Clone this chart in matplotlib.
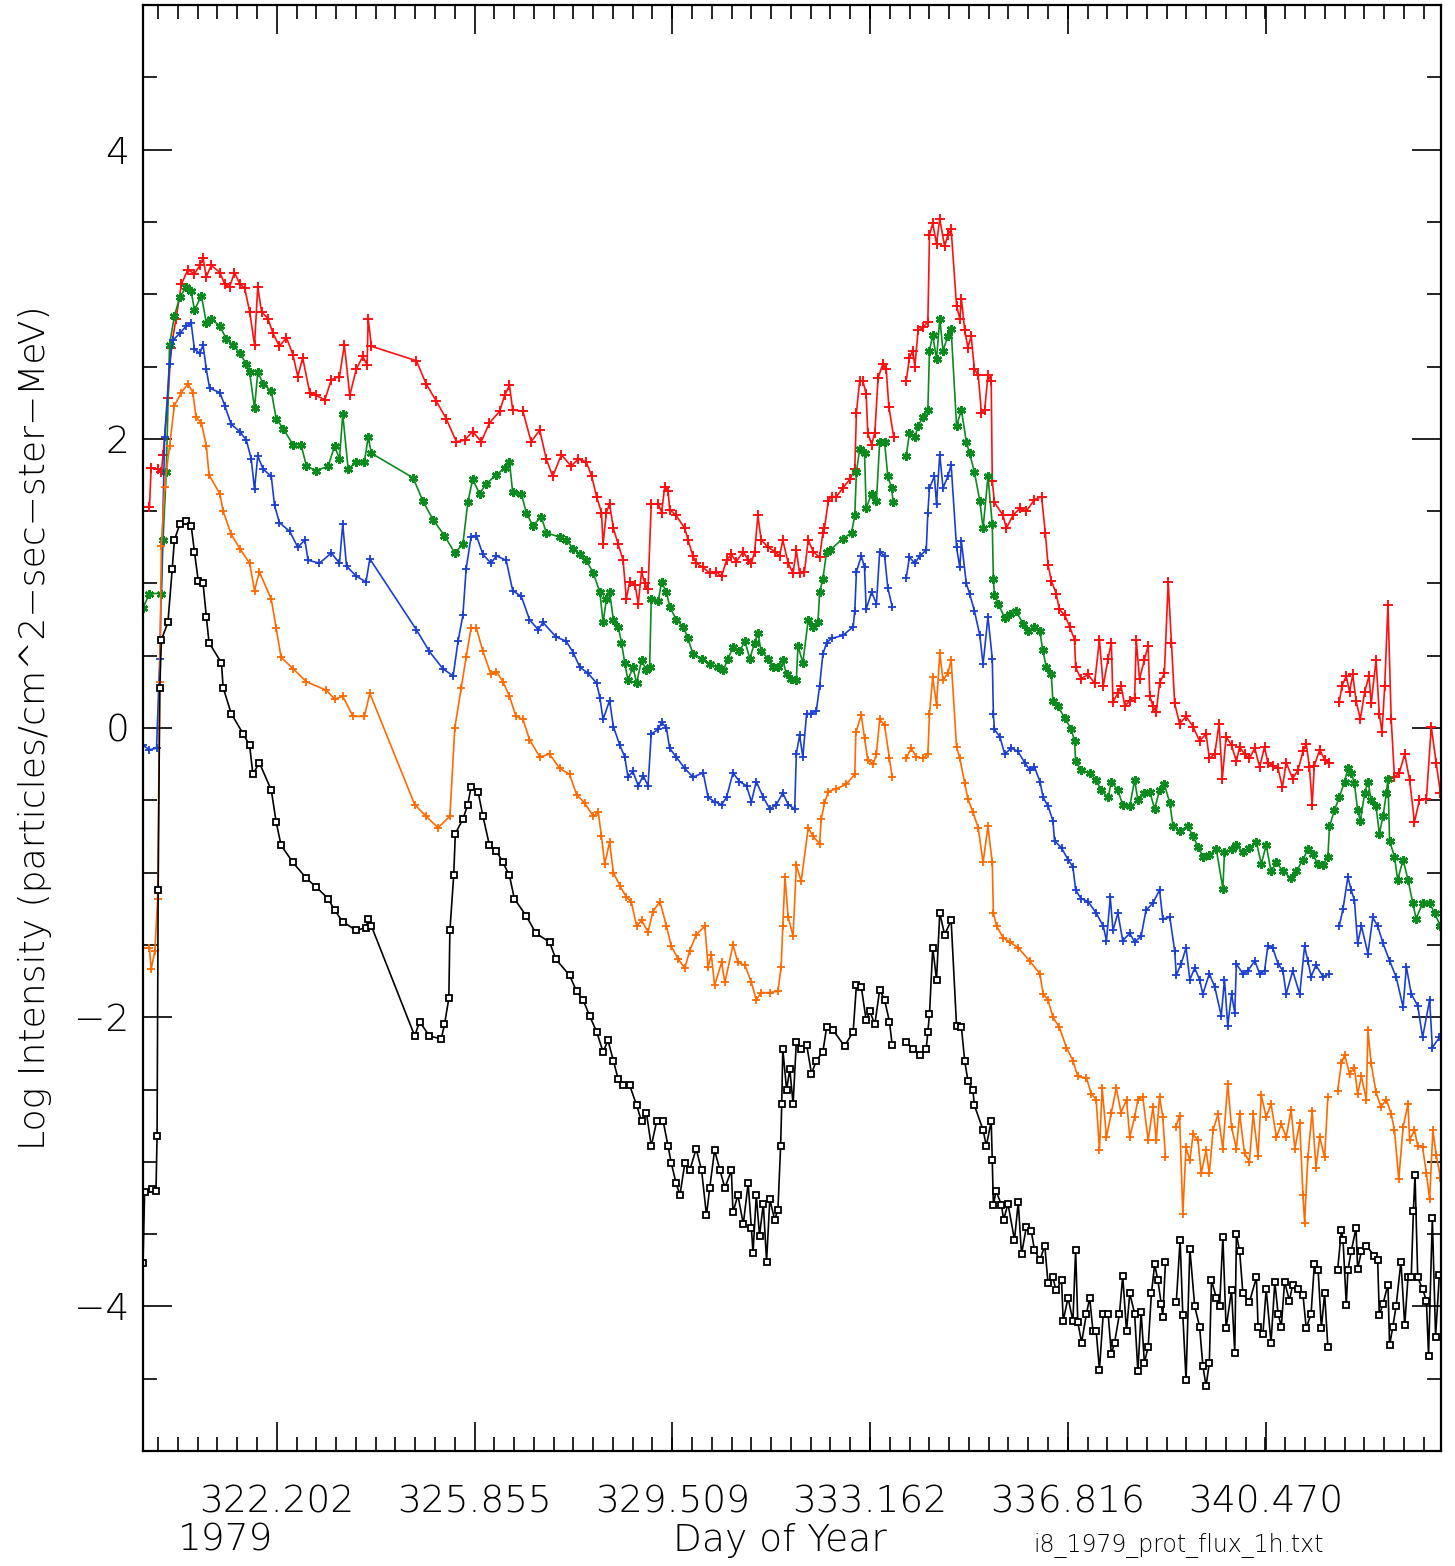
import numpy as np
import matplotlib
matplotlib.use("Agg")
import matplotlib.pyplot as plt
from matplotlib.ticker import FixedLocator, MultipleLocator

# ---- data (day of year, log intensity) ----
nan = np.nan

red = [
    (319.73, 1.53), (319.85, 1.53), (319.88, 1.80), (320.00, 1.79), (320.07, 1.77), (320.10, 1.89),
    (320.19, 2.28), (320.25, 2.63), (320.34, 2.83), (320.44, 3.07), (320.56, 3.17), (320.68, 3.14),
    (320.78, 3.20), (320.84, 3.25), (320.90, 3.12), (320.99, 3.20), (321.15, 3.15), (321.24, 3.07),
    (321.33, 3.05), (321.42, 3.15), (321.52, 3.07), (321.61, 3.04), (321.70, 2.88), (321.79, 2.65),
    (321.85, 3.05), (321.92, 2.88), (322.04, 2.83), (322.13, 2.73), (322.25, 2.64), (322.38, 2.70),
    (322.50, 2.58), (322.59, 2.43), (322.68, 2.56), (322.81, 2.32), (322.93, 2.30), (323.09, 2.27),
    (323.21, 2.41), (323.36, 2.43), (323.45, 2.65), (323.55, 2.30), (323.67, 2.48), (323.79, 2.57),
    (323.87, 2.51), (323.89, 2.83), (323.95, 2.64), (324.78, 2.54), (324.96, 2.38), (325.15, 2.26),
    (325.33, 2.14), (325.52, 1.98), (325.67, 1.99), (325.82, 2.05), (325.98, 1.98), (326.13, 2.11),
    (326.32, 2.19), (326.41, 2.30), (326.50, 2.37), (326.56, 2.20), (326.75, 2.19), (326.90, 1.98),
    (327.06, 2.06), (327.18, 1.86), (327.30, 1.74), (327.46, 1.89), (327.64, 1.81), (327.77, 1.86),
    (327.92, 1.84), (328.02, 1.74), (328.11, 1.60), (328.20, 1.49), (328.23, 1.27), (328.29, 1.49),
    (328.35, 1.55), (328.42, 1.38), (328.51, 1.27), (328.60, 1.16), (328.66, 0.89), (328.72, 1.01),
    (328.82, 0.99), (328.88, 0.86), (328.94, 1.08), (329.00, 1.00), (329.06, 0.96), (329.12, 1.55),
    (329.25, 1.55), (329.31, 1.49), (329.37, 1.67), (329.43, 1.64), (329.46, 1.51), (329.58, 1.47),
    (329.74, 1.38), (329.80, 1.30), (329.89, 1.19), (329.95, 1.14), (330.08, 1.11), (330.20, 1.07),
    (330.32, 1.08), (330.42, 1.05), (330.51, 1.16), (330.60, 1.20), (330.69, 1.15), (330.82, 1.22),
    (330.91, 1.16), (330.97, 1.14), (331.03, 1.22), (331.09, 1.47), (331.15, 1.30), (331.28, 1.25),
    (331.40, 1.22), (331.49, 1.19), (331.55, 1.30), (331.65, 1.14), (331.74, 1.07), (331.80, 1.23),
    (331.86, 1.07), (331.95, 1.08), (332.02, 1.30), (332.11, 1.22), (332.23, 1.18), (332.29, 1.35),
    (332.32, 1.38), (332.39, 1.57), (332.45, 1.60), (332.54, 1.60), (332.66, 1.66), (332.79, 1.72),
    (332.88, 1.79), (332.91, 2.18), (332.97, 2.40), (333.03, 2.40), (333.09, 2.31), (333.12, 2.04),
    (333.19, 1.96), (333.25, 2.04), (333.31, 2.42), (333.40, 2.52), (333.46, 2.48), (333.51, 2.22),
    (333.60, 2.01), (333.70, nan), (333.83, 2.40), (333.89, 2.56), (333.95, 2.61), (333.99, 2.50),
    (334.05, 2.75), (334.14, 2.77), (334.23, 2.81), (334.26, 3.41), (334.32, 3.49), (334.39, 3.35),
    (334.45, 3.52), (334.54, 3.33), (334.60, 3.41), (334.66, 3.45), (334.76, 2.92), (334.82, 2.83),
    (334.85, 2.97), (334.91, 2.75), (334.97, 2.63), (335.03, 2.71), (335.09, 2.48), (335.16, 2.44),
    (335.22, 2.18), (335.28, 2.20), (335.34, 2.44), (335.40, 2.40), (335.42, 1.71), (335.46, 1.56),
    (335.62, 1.47), (335.68, 1.38), (335.80, 1.47), (335.93, 1.52), (336.05, 1.50), (336.20, 1.58),
    (336.33, 1.60), (336.40, 1.35), (336.45, 1.13), (336.51, 1.02), (336.60, 0.93), (336.66, 0.82),
    (336.76, 0.78), (336.85, 0.70), (336.94, 0.61), (336.96, 0.42), (337.06, 0.34), (337.19, 0.37),
    (337.31, 0.31), (337.40, 0.61), (337.47, 0.29), (337.56, 0.48), (337.62, 0.59), (337.65, 0.18),
    (337.74, 0.24), (337.80, 0.29), (337.87, 0.15), (337.96, 0.19), (338.05, 0.21), (338.08, 0.61),
    (338.14, 0.34), (338.23, 0.47), (338.30, 0.57), (338.33, 0.22), (338.39, 0.15), (338.45, 0.11),
    (338.51, 0.31), (338.60, 0.38), (338.67, 1.01), (338.73, 0.59), (338.79, 0.17), (338.88, 0.03),
    (339.00, 0.08), (339.13, 0.01), (339.25, -0.09), (339.37, -0.04), (339.43, -0.21), (339.53, -0.18),
    (339.61, 0.03), (339.67, -0.35), (339.74, -0.06), (339.84, -0.12), (339.93, -0.23), (339.99, -0.13),
    (340.08, -0.18), (340.17, -0.21), (340.27, -0.14), (340.36, -0.27), (340.45, -0.13), (340.51, -0.24),
    (340.60, -0.26), (340.70, -0.28), (340.78, -0.41), (340.85, -0.24), (340.97, -0.35), (341.07, -0.29),
    (341.16, -0.16), (341.22, -0.11), (341.28, -0.27), (341.33, -0.53), (341.37, -0.26), (341.47, -0.15),
    (341.56, -0.22), (341.65, -0.24), (341.74, nan), (341.83, 0.18), (341.88, 0.29), (341.96, 0.36),
    (342.02, 0.25), (342.08, 0.37), (342.14, 0.19), (342.22, 0.06), (342.30, 0.25), (342.38, 0.36),
    (342.42, 0.17), (342.51, 0.47), (342.57, 0.10), (342.62, -0.03), (342.67, 0.29), (342.73, 0.85),
    (342.79, 0.06), (342.85, -0.34), (342.94, -0.31), (343.04, -0.18), (343.13, -0.36), (343.22, -0.65),
    (343.31, -0.50), (343.44, -0.49), (343.53, 0.01), (343.62, -0.24), (343.70, -0.45),
]

green = [
    (319.73, 0.83), (319.85, 0.93), (320.07, 0.93), (320.10, 1.30), (320.16, 1.77), (320.22, 2.65),
    (320.31, 2.85), (320.41, 2.98), (320.53, 3.05), (320.62, 3.02), (320.68, 2.89), (320.81, 2.99),
    (320.90, 2.80), (320.99, 2.83), (321.15, 2.78), (321.27, 2.69), (321.39, 2.65), (321.52, 2.59),
    (321.64, 2.52), (321.70, 2.46), (321.79, 2.21), (321.85, 2.46), (321.95, 2.38), (322.10, 2.33),
    (322.19, 2.14), (322.32, 2.07), (322.50, 1.96), (322.65, 1.96), (322.75, 1.81), (322.93, 1.78),
    (323.15, 1.81), (323.27, 1.95), (323.36, 1.86), (323.42, 2.17), (323.52, 1.79), (323.67, 1.84),
    (323.82, 1.84), (323.89, 2.01), (323.95, 1.90), (324.72, 1.73), (324.90, 1.57), (325.09, 1.44),
    (325.30, 1.33), (325.49, 1.21), (325.64, 1.27), (325.73, 1.56), (325.82, 1.72), (325.95, 1.62),
    (326.07, 1.69), (326.26, 1.75), (326.41, 1.80), (326.50, 1.84), (326.56, 1.63), (326.72, 1.62),
    (326.81, 1.49), (326.93, 1.40), (327.09, 1.46), (327.18, 1.35), (327.43, 1.32), (327.55, 1.30),
    (327.68, 1.24), (327.80, 1.20), (327.92, 1.16), (328.05, 1.07), (328.17, 0.94), (328.23, 0.73),
    (328.29, 0.89), (328.35, 0.94), (328.42, 0.75), (328.51, 0.70), (328.57, 0.59), (328.63, 0.45),
    (328.69, 0.33), (328.78, 0.42), (328.85, 0.31), (328.94, 0.47), (329.03, 0.40), (329.09, 0.42),
    (329.12, 0.89), (329.25, 0.88), (329.31, 1.01), (329.40, 0.94), (329.46, 0.84), (329.58, 0.75),
    (329.71, 0.70), (329.80, 0.62), (329.89, 0.51), (330.05, 0.48), (330.20, 0.44), (330.35, 0.42),
    (330.45, 0.40), (330.54, 0.48), (330.63, 0.56), (330.75, 0.53), (330.85, 0.60), (330.94, 0.48),
    (331.03, 0.59), (331.09, 0.66), (331.15, 0.53), (331.28, 0.48), (331.37, 0.42), (331.46, 0.42),
    (331.55, 0.47), (331.62, 0.37), (331.71, 0.34), (331.80, 0.33), (331.83, 0.57), (331.92, 0.45),
    (332.02, 0.75), (332.11, 0.70), (332.20, 0.73), (332.23, 0.94), (332.29, 1.03), (332.36, 1.22),
    (332.42, 1.23), (332.66, 1.31), (332.82, 1.35), (332.88, 1.47), (332.91, 1.77), (332.97, 1.93),
    (333.06, 1.90), (333.09, 1.52), (333.19, 1.62), (333.28, 1.57), (333.34, 1.98), (333.43, 1.98),
    (333.49, 1.74), (333.56, 1.66), (333.59, 1.56), (333.70, nan), (333.83, 1.88), (333.89, 2.04),
    (333.99, 2.01), (334.05, 2.09), (334.14, 2.15), (334.23, 2.20), (334.26, 2.61), (334.32, 2.72),
    (334.39, 2.55), (334.45, 2.83), (334.51, 2.61), (334.60, 2.71), (334.66, 2.76), (334.76, 2.09),
    (334.85, 2.20), (334.94, 1.98), (335.00, 1.90), (335.09, 1.77), (335.19, 1.57), (335.25, 1.38),
    (335.34, 1.74), (335.42, 1.41), (335.44, 1.03), (335.46, 0.92), (335.53, 0.86), (335.65, 0.76),
    (335.74, 0.79), (335.86, 0.81), (335.99, 0.72), (336.08, 0.67), (336.20, 0.70), (336.30, 0.67),
    (336.35, 0.54), (336.42, 0.42), (336.51, 0.37), (336.54, 0.19), (336.63, 0.15), (336.76, 0.07),
    (336.88, -0.01), (336.94, -0.09), (336.96, -0.23), (337.06, -0.29), (337.22, -0.31), (337.34, -0.36),
    (337.43, -0.43), (337.56, -0.48), (337.62, -0.37), (337.74, -0.43), (337.83, -0.53), (337.96, -0.54),
    (338.05, -0.36), (338.11, -0.50), (338.23, -0.45), (338.33, -0.44), (338.42, -0.56), (338.51, -0.43),
    (338.60, -0.39), (338.70, -0.52), (338.76, -0.68), (338.88, -0.71), (339.03, -0.68), (339.13, -0.75),
    (339.22, -0.82), (339.31, -0.89), (339.43, -0.88), (339.56, -0.84), (339.68, -1.11), (339.71, -0.86),
    (339.84, -0.84), (339.93, -0.81), (340.05, -0.86), (340.17, -0.83), (340.30, -0.79), (340.39, -0.94),
    (340.48, -0.81), (340.57, -0.99), (340.67, -0.93), (340.79, -0.99), (340.94, -1.04), (341.04, -0.99),
    (341.16, -0.91), (341.25, -0.84), (341.34, -0.87), (341.43, -0.94), (341.53, -0.95), (341.62, -0.89),
    (341.65, -0.68), (341.74, -0.57), (341.83, -0.48), (341.93, -0.37), (341.99, -0.28), (342.05, -0.31),
    (342.11, -0.38), (342.17, -0.57), (342.22, -0.64), (342.30, -0.45), (342.36, -0.37), (342.42, -0.50),
    (342.51, -0.54), (342.57, -0.73), (342.64, -0.61), (342.70, -0.45), (342.73, -0.35), (342.76, -0.78),
    (342.85, -0.89), (342.91, -1.05), (343.01, -0.91), (343.10, -1.05), (343.19, -1.21), (343.25, -1.32),
    (343.37, -1.21), (343.50, -1.21), (343.59, -1.28), (343.70, -1.37),
]

blue = [
    (319.73, -0.12), (319.85, -0.15), (319.98, -0.14), (320.04, 0.48), (320.13, 2.01), (320.22, 2.52),
    (320.28, 2.68), (320.41, 2.73), (320.53, 2.78), (320.62, 2.80), (320.68, 2.62), (320.78, 2.59),
    (320.84, 2.65), (320.90, 2.48), (320.96, 2.35), (321.15, 2.32), (321.24, 2.23), (321.36, 2.10),
    (321.52, 2.05), (321.64, 1.99), (321.73, 1.86), (321.79, 1.65), (321.85, 1.88), (321.95, 1.79),
    (322.10, 1.74), (322.16, 1.54), (322.25, 1.42), (322.44, 1.36), (322.59, 1.25), (322.72, 1.30),
    (322.78, 1.16), (322.99, 1.14), (323.21, 1.21), (323.36, 1.14), (323.42, 1.41), (323.49, 1.12),
    (323.67, 1.05), (323.85, 1.01), (323.92, 1.17), (324.78, 0.68), (325.02, 0.53), (325.27, 0.41),
    (325.46, 0.36), (325.55, 0.60), (325.64, 0.78), (325.70, 1.10), (325.79, 1.32), (325.89, 1.33),
    (326.01, 1.20), (326.16, 1.14), (326.26, 1.19), (326.44, 1.16), (326.56, 0.95), (326.72, 0.91),
    (326.87, 0.75), (327.03, 0.68), (327.12, 0.73), (327.36, 0.63), (327.55, 0.60), (327.68, 0.52),
    (327.80, 0.42), (327.95, 0.38), (328.11, 0.31), (328.17, 0.21), (328.23, 0.06), (328.35, 0.19),
    (328.42, 0.01), (328.54, -0.12), (328.63, -0.20), (328.69, -0.34), (328.78, -0.30), (328.88, -0.40),
    (328.97, -0.33), (329.06, -0.40), (329.12, -0.04), (329.25, -0.01), (329.31, 0.04), (329.40, 0.00),
    (329.46, -0.14), (329.58, -0.20), (329.74, -0.28), (329.89, -0.34), (330.08, -0.31), (330.17, -0.48),
    (330.29, -0.51), (330.42, -0.53), (330.51, -0.48), (330.63, -0.31), (330.75, -0.37), (330.88, -0.40),
    (330.97, -0.51), (331.06, -0.37), (331.19, -0.48), (331.31, -0.56), (331.43, -0.53), (331.55, -0.45),
    (331.65, -0.53), (331.77, -0.56), (331.80, -0.18), (331.86, -0.05), (331.92, -0.20), (331.99, 0.10),
    (332.08, 0.10), (332.17, 0.12), (332.23, 0.29), (332.29, 0.51), (332.36, 0.59), (332.45, 0.62),
    (332.66, 0.64), (332.85, 0.70), (332.88, 0.81), (332.91, 1.08), (333.00, 1.19), (333.06, 1.11),
    (333.09, 0.82), (333.19, 0.94), (333.28, 0.86), (333.34, 1.22), (333.43, 1.19), (333.49, 0.97),
    (333.57, 0.84), (333.70, nan), (333.83, 1.04), (333.89, 1.18), (333.99, 1.14), (334.08, 1.19),
    (334.20, 1.23), (334.23, 1.49), (334.26, 1.66), (334.35, 1.74), (334.39, 1.55), (334.45, 1.89),
    (334.51, 1.66), (334.60, 1.74), (334.66, 1.82), (334.76, 1.25), (334.82, 1.11), (334.85, 1.29),
    (334.94, 1.00), (335.00, 0.93), (335.09, 0.81), (335.19, 0.64), (335.25, 0.44), (335.34, 0.77),
    (335.42, 0.48), (335.44, 0.10), (335.46, -0.01), (335.56, -0.06), (335.65, -0.18), (335.77, -0.14),
    (335.89, -0.16), (336.02, -0.24), (336.11, -0.29), (336.20, -0.27), (336.30, -0.37), (336.36, -0.48),
    (336.45, -0.54), (336.54, -0.64), (336.57, -0.78), (336.70, -0.83), (336.82, -0.91), (336.91, -0.96),
    (336.96, -1.12), (337.06, -1.18), (337.19, -1.20), (337.34, -1.28), (337.47, -1.37), (337.53, -1.47),
    (337.60, -1.17), (337.65, -1.40), (337.74, -1.28), (337.83, -1.47), (337.96, -1.42), (338.05, -1.48),
    (338.17, -1.44), (338.26, -1.26), (338.39, -1.21), (338.51, -1.12), (338.57, -1.32), (338.70, -1.31),
    (338.79, -1.54), (338.82, -1.71), (338.91, -1.63), (339.00, -1.52), (339.07, -1.74), (339.16, -1.66),
    (339.25, -1.74), (339.31, -1.84), (339.43, -1.70), (339.53, -1.79), (339.65, -1.99), (339.71, -1.74),
    (339.77, -2.06), (339.84, -1.84), (339.90, -1.97), (339.93, -1.63), (340.05, -1.70), (340.14, -1.68),
    (340.27, -1.61), (340.36, -1.70), (340.45, -1.68), (340.51, -1.51), (340.60, -1.52), (340.70, -1.63),
    (340.79, -1.68), (340.85, -1.84), (340.97, -1.68), (341.10, -1.84), (341.19, -1.51), (341.25, -1.61),
    (341.31, -1.72), (341.40, -1.64), (341.53, -1.72), (341.65, -1.70), (341.74, nan), (341.83, -1.37),
    (341.90, -1.25), (341.99, -1.03), (342.05, -1.12), (342.11, -1.19), (342.17, -1.49), (342.24, -1.37),
    (342.36, -1.56), (342.45, -1.31), (342.54, -1.37), (342.64, -1.49), (342.76, -1.61), (342.88, -1.72),
    (343.01, -1.93), (343.07, -1.65), (343.16, -1.84), (343.28, -1.92), (343.37, -2.14), (343.50, -1.88),
    (343.55, -2.21), (343.68, -2.14),
]

orange = [
    (319.73, -1.52), (319.85, -1.52), (319.88, -1.67), (319.95, -1.54), (320.00, -1.18), (320.04, 0.32),
    (320.07, 1.26), (320.13, 1.67), (320.22, 1.95), (320.31, 2.23), (320.44, 2.32), (320.56, 2.38),
    (320.65, 2.32), (320.71, 2.15), (320.81, 2.11), (320.90, 1.95), (320.95, 1.75), (321.15, 1.62),
    (321.21, 1.50), (321.36, 1.34), (321.52, 1.24), (321.70, 1.14), (321.79, 0.95), (321.88, 1.08),
    (322.10, 0.89), (322.19, 0.69), (322.28, 0.49), (322.50, 0.41), (322.75, 0.32), (323.12, 0.26),
    (323.27, 0.20), (323.42, 0.22), (323.61, 0.08), (323.82, 0.08), (323.92, 0.24), (324.75, -0.53),
    (324.96, -0.61), (325.18, -0.69), (325.40, -0.61), (325.49, 0.00), (325.61, 0.28), (325.70, 0.49),
    (325.79, 0.69), (325.89, 0.69), (326.01, 0.53), (326.16, 0.37), (326.26, 0.39), (326.38, 0.32),
    (326.50, 0.22), (326.62, 0.08), (326.75, 0.06), (326.87, -0.08), (327.06, -0.20), (327.24, -0.18),
    (327.43, -0.28), (327.61, -0.32), (327.74, -0.46), (327.89, -0.52), (328.05, -0.61), (328.14, -0.58),
    (328.20, -0.75), (328.26, -0.94), (328.35, -0.79), (328.42, -1.00), (328.54, -1.09), (328.66, -1.17),
    (328.75, -1.20), (328.85, -1.37), (328.94, -1.33), (329.06, -1.41), (329.15, -1.27), (329.28, -1.20),
    (329.40, -1.37), (329.49, -1.51), (329.62, -1.60), (329.74, -1.66), (329.83, -1.54), (329.95, -1.43),
    (330.11, -1.37), (330.17, -1.65), (330.23, -1.57), (330.29, -1.78), (330.42, -1.62), (330.48, -1.76),
    (330.63, -1.50), (330.72, -1.62), (330.85, -1.64), (330.97, -1.76), (331.06, -1.88), (331.15, -1.83),
    (331.31, -1.83), (331.46, -1.82), (331.52, -1.65), (331.55, -1.37), (331.59, -1.03), (331.65, -1.31),
    (331.74, -1.44), (331.80, -0.95), (331.89, -1.06), (332.02, -0.69), (332.11, -0.75), (332.23, -0.80),
    (332.26, -0.63), (332.32, -0.52), (332.39, -0.44), (332.54, -0.42), (332.72, -0.39), (332.88, -0.32),
    (332.90, -0.03), (333.00, 0.09), (333.06, -0.07), (333.12, -0.22), (333.22, -0.25), (333.28, -0.18),
    (333.34, 0.06), (333.43, 0.02), (333.52, -0.21), (333.57, -0.34), (333.70, nan), (333.83, -0.21),
    (333.92, -0.14), (334.02, -0.20), (334.14, -0.21), (334.23, -0.18), (334.26, 0.10), (334.32, 0.35),
    (334.39, 0.16), (334.45, 0.52), (334.51, 0.33), (334.60, 0.38), (334.66, 0.47), (334.76, -0.13),
    (334.82, -0.21), (334.91, -0.38), (334.97, -0.49), (335.06, -0.58), (335.16, -0.69), (335.25, -0.93),
    (335.34, -0.68), (335.42, -0.93), (335.44, -1.28), (335.50, -1.37), (335.62, -1.45), (335.74, -1.48),
    (335.90, -1.52), (336.11, -1.61), (336.30, -1.70), (336.36, -1.84), (336.45, -1.88), (336.54, -2.00),
    (336.66, -2.07), (336.79, -2.21), (336.91, -2.30), (337.00, -2.41), (337.16, -2.42), (337.25, -2.53),
    (337.34, -2.57), (337.40, -2.92), (337.45, -2.49), (337.53, -2.83), (337.62, -2.66), (337.71, -2.49),
    (337.80, -2.66), (337.90, -2.57), (337.96, -2.83), (338.05, -2.69), (338.11, -2.57), (338.20, -2.55),
    (338.30, -2.85), (338.39, -2.62), (338.45, -2.85), (338.51, -2.55), (338.57, -2.69), (338.62, -2.97),
    (338.72, nan), (338.81, -2.76), (338.88, -2.68), (338.94, -3.36), (339.00, -2.90), (339.07, -2.99),
    (339.13, -2.81), (339.22, -2.85), (339.28, -3.08), (339.37, -2.92), (339.43, -3.08), (339.50, -2.78),
    (339.59, -2.67), (339.68, -2.91), (339.77, -2.46), (339.84, -2.76), (339.93, -2.91), (339.99, -2.67),
    (340.08, -2.94), (340.17, -3.00), (340.24, -2.67), (340.33, -2.96), (340.39, -2.54), (340.48, -2.69),
    (340.57, -2.60), (340.67, -2.83), (340.76, -2.74), (340.85, -2.83), (340.94, -2.64), (341.01, -2.91),
    (341.10, -2.73), (341.16, -3.23), (341.19, -3.42), (341.25, -2.97), (341.33, -2.65), (341.40, -3.04),
    (341.47, -2.83), (341.56, -2.97), (341.62, -2.55), (341.72, nan), (341.80, -2.51), (341.87, -2.32),
    (341.93, -2.26), (342.02, -2.39), (342.11, -2.35), (342.17, -2.53), (342.24, -2.41), (342.33, -2.57),
    (342.36, -2.09), (342.42, -2.32), (342.51, -2.52), (342.60, -2.62), (342.70, -2.57), (342.79, -2.67),
    (342.85, -2.78), (342.93, -3.12), (343.01, -2.76), (343.10, -2.60), (343.13, -2.85), (343.22, -2.78),
    (343.28, -2.89), (343.37, -2.90), (343.44, -3.08), (343.50, -3.26), (343.56, -2.78), (343.62, -2.95),
    (343.70, -3.11),
]

black = [
    (319.73, -3.70), (319.76, -3.21), (319.90, -3.19), (319.97, -3.20), (319.99, -2.82), (320.01, -1.12),
    (320.04, 0.28), (320.07, 0.61), (320.19, 0.73), (320.27, 1.10), (320.31, 1.30), (320.41, 1.41),
    (320.53, 1.43), (320.62, 1.40), (320.68, 1.22), (320.75, 1.02), (320.84, 1.00), (320.90, 0.77),
    (320.95, 0.59), (321.18, 0.45), (321.21, 0.28), (321.36, 0.10), (321.58, -0.04), (321.70, -0.12),
    (321.76, -0.32), (321.88, -0.24), (322.10, -0.43), (322.19, -0.65), (322.28, -0.81), (322.50, -0.93),
    (322.75, -1.04), (322.93, -1.10), (323.15, -1.18), (323.27, -1.26), (323.42, -1.34), (323.67, -1.40),
    (323.85, -1.38), (323.89, -1.32), (323.95, -1.37), (324.75, -2.13), (324.84, -2.03), (325.02, -2.13),
    (325.24, -2.15), (325.30, -2.05), (325.38, -1.87), (325.40, -1.40), (325.47, -1.02), (325.50, -0.73),
    (325.64, -0.63), (325.73, -0.53), (325.79, -0.41), (325.92, -0.44), (326.01, -0.61), (326.13, -0.81),
    (326.26, -0.85), (326.38, -0.93), (326.50, -1.02), (326.59, -1.18), (326.81, -1.30), (326.99, -1.42),
    (327.24, -1.48), (327.36, -1.60), (327.61, -1.71), (327.74, -1.82), (327.86, -1.88), (327.98, -1.99),
    (328.11, -2.10), (328.23, -2.24), (328.32, -2.16), (328.42, -2.30), (328.51, -2.43), (328.60, -2.47),
    (328.72, -2.47), (328.85, -2.61), (328.94, -2.72), (329.03, -2.66), (329.12, -2.89), (329.22, -2.72),
    (329.34, -2.72), (329.43, -2.89), (329.49, -3.01), (329.58, -3.15), (329.65, -3.23), (329.74, -3.01),
    (329.83, -3.06), (329.95, -2.91), (330.05, -3.06), (330.14, -3.37), (330.20, -3.18), (330.29, -2.92),
    (330.39, -3.06), (330.48, -3.18), (330.60, -3.06), (330.63, -3.35), (330.72, -3.23), (330.82, -3.43),
    (330.91, -3.15), (330.97, -3.46), (331.00, -3.63), (331.06, -3.23), (331.12, -3.51), (331.19, -3.29),
    (331.25, -3.69), (331.31, -3.26), (331.40, -3.40), (331.46, -3.33), (331.51, -2.89), (331.53, -2.60),
    (331.55, -2.22), (331.62, -2.50), (331.68, -2.36), (331.74, -2.60), (331.80, -2.17), (331.89, -2.22),
    (331.99, -2.19), (332.08, -2.39), (332.17, -2.30), (332.29, -2.24), (332.36, -2.07), (332.48, -2.09),
    (332.69, -2.20), (332.85, -2.10), (332.91, -1.78), (333.00, -1.79), (333.09, -2.02), (333.16, -1.96),
    (333.25, -2.05), (333.34, -1.81), (333.43, -1.88), (333.52, -2.03), (333.57, -2.19), (333.70, nan),
    (333.83, -2.17), (333.95, -2.22), (334.08, -2.26), (334.20, -2.22), (334.23, -2.10), (334.26, -1.98),
    (334.32, -1.52), (334.39, -1.74), (334.45, -1.28), (334.54, -1.43), (334.66, -1.33), (334.76, -2.06),
    (334.85, -2.07), (334.91, -2.30), (334.97, -2.44), (335.06, -2.50), (335.09, -2.61), (335.25, -2.78),
    (335.31, -2.89), (335.40, -2.72), (335.42, -2.99), (335.44, -3.30), (335.49, -3.20), (335.59, -3.30),
    (335.63, -3.40), (335.71, -3.29), (335.83, -3.54), (335.90, -3.28), (335.96, -3.64), (336.05, -3.45),
    (336.14, -3.48), (336.20, -3.61), (336.30, -3.68), (336.39, -3.58), (336.45, -3.84), (336.54, -3.80),
    (336.60, -3.89), (336.70, -3.82), (336.73, -4.10), (336.82, -3.94), (336.91, -4.10), (336.96, -3.61),
    (337.00, -4.11), (337.07, -4.25), (337.16, -4.05), (337.22, -3.94), (337.28, -4.17), (337.34, -4.17),
    (337.40, -4.44), (337.47, -4.05), (337.56, -4.05), (337.62, -4.33), (337.68, -4.25), (337.77, -4.05),
    (337.83, -3.79), (337.90, -4.17), (337.96, -3.91), (338.05, -4.05), (338.11, -4.45), (338.17, -4.04),
    (338.23, -4.39), (338.30, -4.28), (338.36, -3.91), (338.42, -3.71), (338.48, -3.82), (338.54, -3.98),
    (338.57, -4.07), (338.62, -3.69), (338.72, nan), (338.82, -3.97), (338.89, -3.54), (338.94, -4.06),
    (339.00, -4.51), (339.07, -3.60), (339.16, -4.00), (339.25, -4.14), (339.31, -4.41), (339.37, -4.55),
    (339.43, -4.39), (339.47, -3.82), (339.56, -3.94), (339.62, -4.00), (339.68, -3.52), (339.74, -4.15),
    (339.84, -3.89), (339.90, -4.32), (339.93, -3.50), (339.99, -3.62), (340.05, -3.91), (340.17, -3.97),
    (340.30, -3.80), (340.33, -4.14), (340.42, -4.19), (340.48, -3.88), (340.57, -4.25), (340.64, -3.83),
    (340.70, -4.05), (340.76, -4.14), (340.82, -3.83), (340.91, -3.96), (340.97, -3.85), (341.07, -3.88),
    (341.16, -3.92), (341.22, -4.15), (341.31, -4.05), (341.37, -3.71), (341.44, -3.75), (341.50, -4.15),
    (341.56, -3.91), (341.62, -4.28), (341.72, nan), (341.80, -3.75), (341.87, -3.47), (341.90, -3.54),
    (341.96, -3.99), (341.99, -3.75), (342.05, -3.62), (342.14, -3.46), (342.17, -3.74), (342.24, -3.62),
    (342.33, -3.58), (342.48, -3.65), (342.54, -3.68), (342.57, -4.06), (342.64, -3.98), (342.73, -3.85),
    (342.76, -4.27), (342.82, -4.14), (342.88, -4.00), (342.97, -3.69), (343.04, -4.13), (343.10, -3.80),
    (343.16, -3.80), (343.20, -3.34), (343.23, -3.09), (343.28, -3.80), (343.37, -3.88), (343.44, -3.96),
    (343.48, -4.34), (343.55, -3.39), (343.61, -4.21), (343.68, -3.78),
]

x_tick_labels = ["322.202", "325.855", "329.509", "333.162", "336.816", "340.470"]
y_ticks = [-4, -2, 0, 2, 4]

# ---- figure ----
W, H = 1455, 1566
plt.rcParams["font.family"] = ["DejaVu Sans"]
plt.rcParams["font.weight"] = "light"
plt.rcParams["axes.labelweight"] = "light"
fig = plt.figure(figsize=(W / 100, H / 100), dpi=100)
ax = fig.add_axes([143 / W, 1 - 1451 / H, (1441 - 143) / W, (1451 - 5) / H])

styles = [
    (red, "#ff1010", dict(marker="+", ms=7, mew=1.4)),
    (green, "#0b8a1e", dict(marker=(6, 2, 0), ms=6.5, mew=1.8)),
    (blue, "#1a3fd0", dict(marker="+", ms=6, mew=1.3)),
    (orange, "#ff6a00", dict(marker="+", ms=6, mew=1.3)),
    (black, "black", dict(marker="s", ms=4.5, mew=1.3, mfc="white")),
]
for series, col, mk in styles:
    d = np.array(series, dtype=float)
    ax.plot(d[:, 0], d[:, 1], color=col, lw=1.2, **mk)

ax.set_xlim(319.73, 343.71)
ax.set_ylim(-5, 5)

# IDL-style ticks: inward, on all four sides
xmaj = [float(s) for s in x_tick_labels]
step = (xmaj[1] - xmaj[0]) / 10
xmin_ticks = np.arange(xmaj[0] - 6 * step, 343.71, step)
ax.xaxis.set_major_locator(FixedLocator(xmaj))
ax.xaxis.set_minor_locator(FixedLocator(xmin_ticks))
ax.set_xticklabels(x_tick_labels)
ax.set_yticks(y_ticks)
ax.set_yticklabels([str(v) if v >= 0 else "\u2212" + str(-v) for v in y_ticks])
ax.yaxis.set_minor_locator(MultipleLocator(0.5))

ax.tick_params(which="both", direction="in", top=True, right=True, color="black")
ax.tick_params(which="major", length=21, width=1.2)
ax.tick_params(which="minor", length=10, width=1.2)
ax.tick_params(axis="x", which="major", pad=24, labelsize=27)
ax.tick_params(axis="y", which="major", pad=10, labelsize=27)
for sp in ax.spines.values():
    sp.set_linewidth(1.6)

ax.set_ylabel("Log Intensity (particles/cm^2\u2212sec\u2212ster\u2212MeV)",
              fontsize=26, fontweight="light", labelpad=16)

fig.text(178 / W, 1 - 1540 / H, "1979", fontsize=27, ha="left", va="center")
fig.text(780 / W, 1 - 1540 / H, "Day of Year", fontsize=27, ha="center", va="center")
fig.text(1033 / W, 1 - 1545 / H, "i8_1979_prot_flux_1h.txt", fontsize=17, ha="left", va="center")

fig.savefig("out.png", dpi=100)
